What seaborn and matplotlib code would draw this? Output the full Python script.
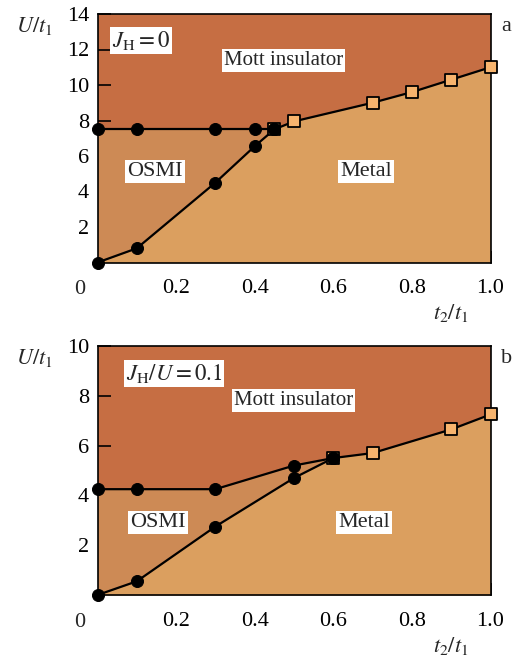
import numpy as np
import pandas as pd
import matplotlib
matplotlib.use("Agg")
import matplotlib.pyplot as plt
import seaborn as sns

# panel a: J_H = 0
a_up_x = [0.0, 0.1, 0.3, 0.4, 0.45]
a_up_y = [7.5, 7.5, 7.5, 7.5, 7.5]
a_lo_x = [0.0, 0.1, 0.3, 0.4, 0.45]
a_lo_y = [0.0, 0.8, 4.5, 6.55, 7.5]
a_sq_x = [0.45, 0.5, 0.7, 0.8, 0.9, 1.0]
a_sq_y = [7.5, 7.95, 9.0, 9.6, 10.3, 11.0]

# panel b: J_H/U = 0.1
b_up_x = [0.0, 0.1, 0.3, 0.5, 0.6]
b_up_y = [4.25, 4.25, 4.25, 5.2, 5.5]
b_lo_x = [0.0, 0.1, 0.3, 0.5, 0.6]
b_lo_y = [0.0, 0.55, 2.75, 4.7, 5.5]
b_sq_x = [0.6, 0.7, 0.9, 1.0]
b_sq_y = [5.5, 5.7, 6.65, 7.25]

mott_c = "#c66e43"
osmi_c = "#cd8a55"
metal_c = "#db9f5f"
sq_c = "#f7b46e"

sns.set_style("ticks")
plt.rcParams["font.family"] = ["Liberation Serif", "DejaVu Serif"]
plt.rcParams["mathtext.fontset"] = "stix"

fig = plt.figure(figsize=(5.13, 6.59), dpi=100)
ax1 = fig.add_axes([97.5/513, 1-262.5/659, 393/513, 248.5/659])
ax2 = fig.add_axes([97.5/513, 1-595/659, 393/513, 249/659])

box = dict(facecolor="white", edgecolor="none", pad=1.5)


def panel(ax, upx, upy, lox, loy, sqx, sqy, ymax, jlabel, jpos, mpos, opos, metpos, letter):
    ax.set_facecolor(mott_c)
    # metal region: below lower line and square line
    bx = np.array(lox + sqx[1:])
    by = np.array(loy + sqy[1:])
    ax.fill_between(bx, 0, by, color=metal_c, lw=0)
    # OSMI region between upper and lower circle lines
    ax.fill_between(np.array(upx), np.array(loy), np.array(upy), color=osmi_c, lw=0)

    for xs, ys in [(upx, upy), (lox, loy), (sqx, sqy)]:
        sns.lineplot(x=xs, y=ys, ax=ax, color="black", lw=1.6, sort=False,
                     estimator=None, zorder=3)
    sns.scatterplot(x=sqx, y=sqy, ax=ax, marker="s", s=80, color=sq_c,
                    edgecolor="black", linewidth=1.3, zorder=4, clip_on=False)
    sns.scatterplot(x=upx + lox, y=upy + loy, ax=ax, marker="o", s=75,
                    color="black", edgecolor="black", zorder=5, clip_on=False)

    ax.set_xlim(0, 1.0)
    ax.set_ylim(0, ymax)
    ax.set_xticks([0.2, 0.4, 0.6, 0.8, 1.0])
    ax.set_xticklabels(["0.2", "0.4", "0.6", "0.8", "1.0"])
    ax.set_yticks(list(range(2, ymax + 1, 2)))
    ax.tick_params(axis="both", direction="in", length=9, width=1.2,
                   labelsize=16, colors="black")
    ax.tick_params(axis="x", pad=12)
    ax.tick_params(axis="y", pad=6)
    for sp in ax.spines.values():
        sp.set_visible(True)
        sp.set_linewidth(1.2)
        sp.set_color("black")
    ax.set_xlabel("")
    ax.set_ylabel("")

    ax.text(jpos[0], jpos[1], jlabel, fontsize=16.5, ha="center", va="center", bbox=box)
    ax.text(mpos[0], mpos[1], "Mott insulator", fontsize=15, ha="center", va="center", bbox=box)
    ax.text(opos[0], opos[1], "OSMI", fontsize=16, ha="center", va="center", bbox=box)
    ax.text(metpos[0], metpos[1], "Metal", fontsize=16, ha="center", va="center", bbox=box)

    ax.text(-0.045, -0.11, "0", transform=ax.transAxes, fontsize=16,
            ha="center", va="center")
    ax.text(-0.16, 0.95, r"$U/t_1$", transform=ax.transAxes, fontsize=16,
            ha="center", va="center")
    ax.text(0.9, -0.205, r"$t_2/t_1$", transform=ax.transAxes, fontsize=16,
            ha="center", va="center")
    ax.text(1.04, 0.95, letter, transform=ax.transAxes, fontsize=16,
            ha="center", va="center")


panel(ax1, a_up_x, a_up_y, a_lo_x, a_lo_y, a_sq_x, a_sq_y, 14,
      r"$J_{\mathrm{H}} = 0$", (0.11, 12.5), (0.473, 11.4), (0.146, 5.1),
      (0.684, 5.1), "a")
panel(ax2, b_up_x, b_up_y, b_lo_x, b_lo_y, b_sq_x, b_sq_y, 10,
      r"$J_{\mathrm{H}}/U = 0.1$", (0.195, 8.9), (0.498, 7.8), (0.154, 2.9),
      (0.679, 2.9), "b")

fig.savefig("out.png", dpi=100)
